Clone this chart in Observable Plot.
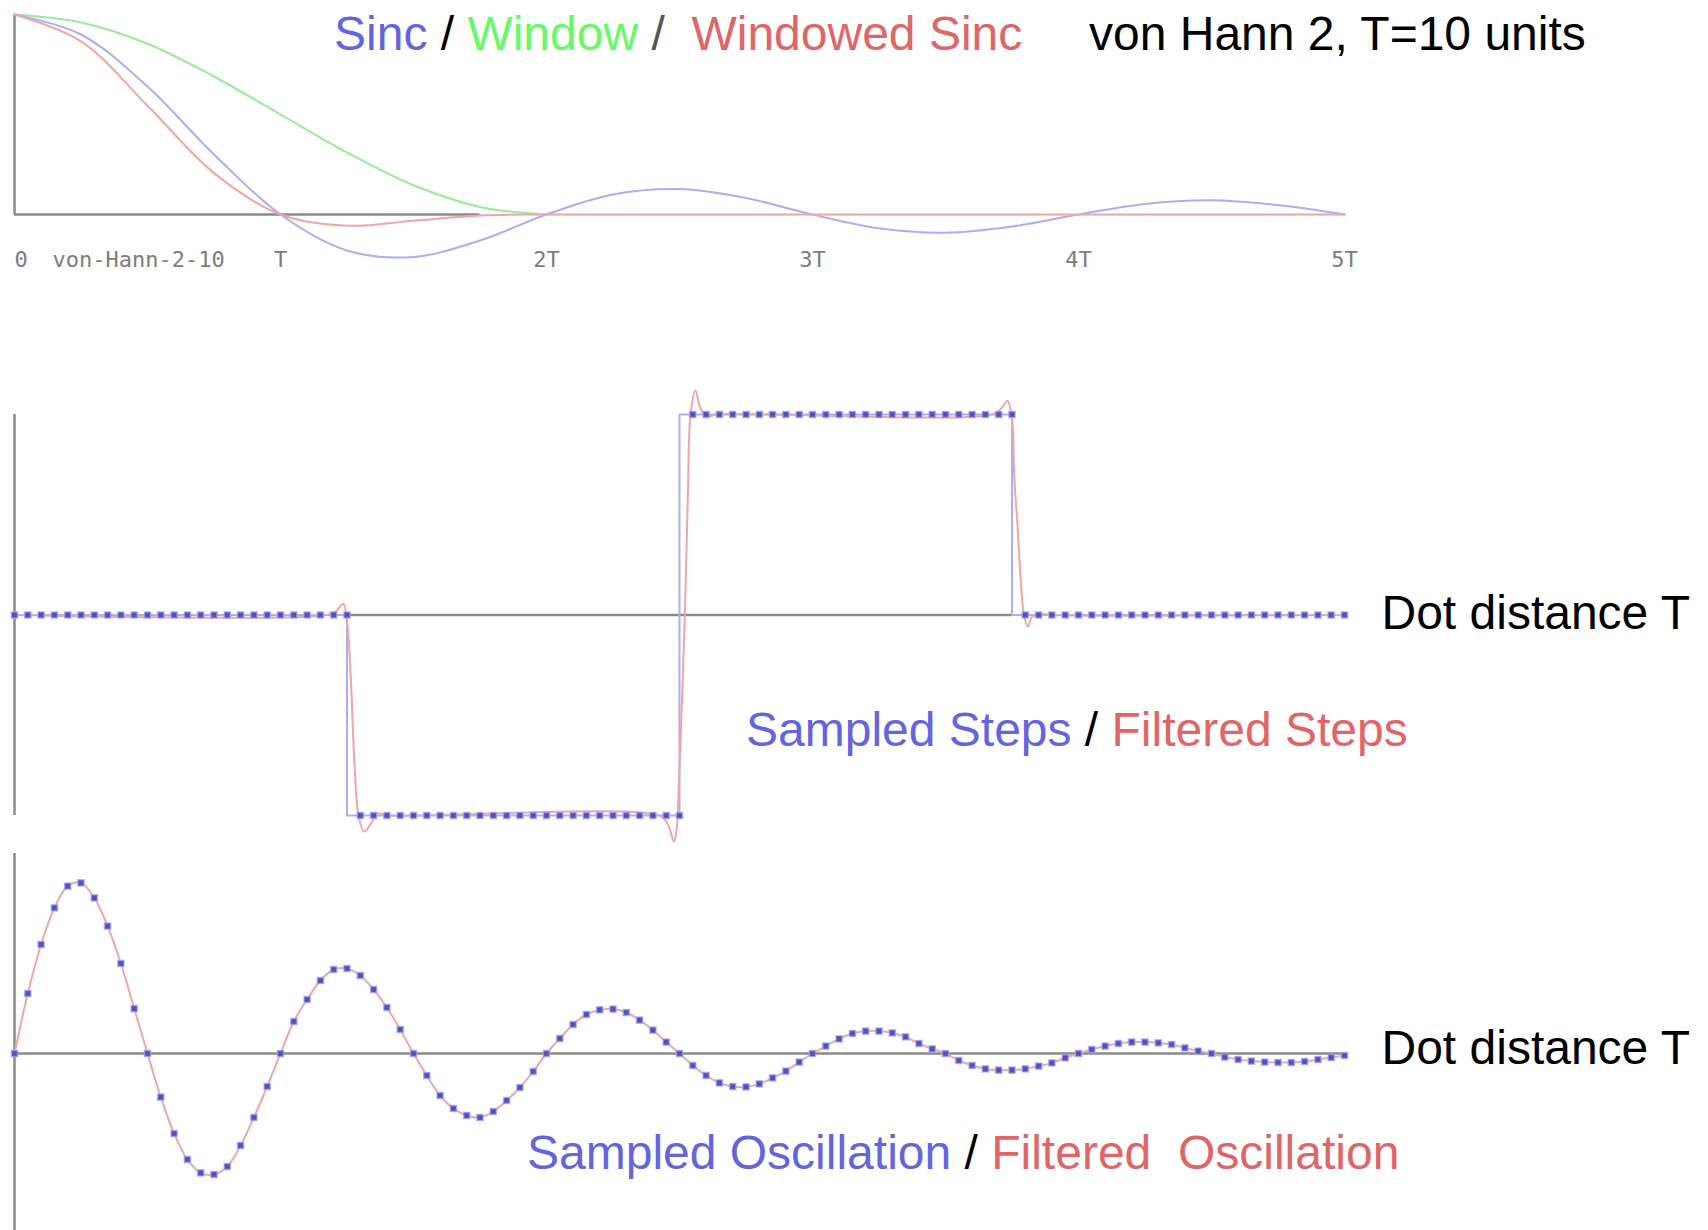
<!DOCTYPE html>
<html><head><meta charset="utf-8">
<script src="https://cdn.jsdelivr.net/npm/d3@7"></script>
<script src="https://cdn.jsdelivr.net/npm/@observablehq/plot@0.6"></script>
<style>
html,body{margin:0;padding:0;background:#fff;overflow:hidden;}
#wrap{position:relative;width:1708px;height:1230px;background:#fff;}
.panel{position:absolute;left:0;}
</style></head><body><div id="wrap"></div>
<script>
// ---------- Panel 1: kernel (x in units of T) ----------
const sincX = [0,0.25,0.5,0.75,1,1.25,1.5,1.75,2,2.25,2.5,2.75,3,3.25,3.5,3.75,4,4.25,4.5,4.75,5];
const sincY = [1,0.9,0.64,0.3,0,-0.18,-0.212,-0.13,0,0.1,0.127,0.082,0,-0.069,-0.091,-0.06,0,0.053,0.071,0.047,0];
const windowX = [0,0.25,0.5,0.75,1,1.25,1.5,1.75,2];
const windowY = [1,0.96,0.854,0.69,0.5,0.31,0.146,0.038,0];
const windowedX = [0,0.25,0.5,0.75,1,1.25,1.5,1.75,2,3,4,5];
const windowedY = [1,0.866,0.544,0.207,0,-0.056,-0.031,-0.005,0,0,0,0];
const kernelTicks = [1,2,3,4,5];
const kernelTickLabels = ["T","2T","3T","4T","5T"];
const kernelName = "von-Hann-2-10";

// ---------- Panel 2: steps (x = sample index) ----------
const stepSamples = [
  0,0,0,0,0,0,0,0,0,0,
  0,0,0,0,0,0,0,0,0,0,
  0,0,0,0,0,0,-1,-1,-1,-1,
  -1,-1,-1,-1,-1,-1,-1,-1,-1,-1,
  -1,-1,-1,-1,-1,-1,-1,-1,-1,-1,
  -1,1,1,1,1,1,1,1,1,1,
  1,1,1,1,1,1,1,1,1,1,
  1,1,1,1,1,1,0,0,0,0,
  0,0,0,0,0,0,0,0,0,0,
  0,0,0,0,0,0,0,0,0,0,0];
const filteredStepX = [0,23.5,24.2,24.72,25,25.29,25.58,25.87,26.29,26.8,27.3,28,
  48.5,49.1,49.59,49.8,49.96,50.2,50.45,50.63,50.83,51.2,51.58,52.1,52.8,
  73.5,74.2,74.66,75.04,75.16,75.41,75.66,75.9,76.2,76.5,77.2,78,100];
const filteredStepY = [0,0,0.02,0.056,-0.03,-0.32,-0.77,-1.0,-1.08,-1.04,-0.99,-1.0,
  -1,-1.04,-1.13,-1.06,-0.83,-0.4,0.12,0.6,1.0,1.12,1.03,0.99,1.0,
  1,1.03,1.067,0.95,0.7,0.45,0.17,0,-0.058,-0.01,0.005,0,0];

// ---------- Panel 3: damped oscillation ----------
const oscSamples = [
  0,0.30,0.545,0.728,0.837,0.853,0.778,0.637,0.45,0.224,
  0,-0.218,-0.40,-0.53,-0.597,-0.605,-0.565,-0.46,-0.32,-0.165,
  0,0.16,0.27,0.365,0.42,0.425,0.39,0.32,0.23,0.12,
  0,-0.11,-0.21,-0.275,-0.31,-0.32,-0.29,-0.235,-0.17,-0.09,
  0,0.075,0.145,0.195,0.218,0.222,0.205,0.167,0.117,0.057,
  0,-0.06,-0.11,-0.147,-0.165,-0.167,-0.152,-0.122,-0.088,-0.043,
  0,0.037,0.073,0.1,0.112,0.112,0.103,0.083,0.05,0.023,
  0,-0.035,-0.06,-0.077,-0.083,-0.083,-0.077,-0.063,-0.047,-0.022,
  0,0.02,0.037,0.05,0.057,0.057,0.053,0.045,0.028,0.012,
  0,-0.018,-0.03,-0.038,-0.043,-0.045,-0.045,-0.04,-0.03,-0.02,-0.01];

// ---------- styling ----------
const W = 1708;
const FONT = "Liberation Sans, Arial, Helvetica, sans-serif";
const MONO = "DejaVu Sans Mono, monospace";
const TXT = 48;
const gray = "#8a8a8a";
const lineBlue = "#adadf3", lineRed = "#f0a6a6", lineGreen = "#98ec98";
const txtBlue = "#6365df", txtRed = "#e06666", txtGreen = "#66fb66";
const dotFill = "#5050c2", dotHalo = "#a4a4ee";

const zip = (xs, ys) => xs.map((x, i) => ({x, y: ys[i]}));
const sinc = zip(sincX, sincY);
const win = zip(windowX, windowY);
const windowed = zip(windowedX, windowedY);
const ticks = kernelTicks.map((x, i) => ({x, label: kernelTickLabels[i]}));
const steps = stepSamples.map((y, x) => ({x, y}));
const filteredSteps = zip(filteredStepX, filteredStepY);
const osc = oscSamples.map((y, x) => ({x, y}));

const wrap = document.getElementById("wrap");
function place(svg, top) {
  const d = document.createElement("div");
  d.className = "panel"; d.style.top = top + "px";
  d.appendChild(svg); wrap.appendChild(d);
}
function richText(svg, x, y, parts) {
  const t = d3.select(svg).append("text")
    .attr("x", x).attr("y", y)
    .attr("text-anchor", "start")
    .attr("font-family", FONT).attr("font-size", TXT)
    .style("white-space", "pre");
  parts.forEach(([s, c]) => t.append("tspan").attr("fill", c).text(s));
}
const base = {width: W, marginLeft: 14, marginRight: 364,
  style: {background: "transparent", overflow: "visible"}};
const tickStyle = {fontFamily: MONO, fontSize: 22, fill: "#7c7c7c", dy: 52, lineAnchor: "bottom"};

// Panel 1
const p1 = Plot.plot({...base, height: 300, marginTop: 14, marginBottom: 86,
  x: {domain: [0, 5], axis: null}, y: {domain: [0, 1], axis: null},
  marks: [
    Plot.ruleX([0], {y1: 0, y2: 1, stroke: gray, strokeWidth: 2.5}),
    Plot.ruleY([0], {x1: 0, x2: 1.75, stroke: gray, strokeWidth: 2.5}),
    Plot.line(win, {x: "x", y: "y", stroke: lineGreen, strokeWidth: 2, curve: "catmull-rom"}),
    Plot.line(sinc, {x: "x", y: "y", stroke: lineBlue, strokeWidth: 2, curve: "catmull-rom"}),
    Plot.line(windowed, {x: "x", y: "y", stroke: lineRed, strokeWidth: 2, curve: "catmull-rom"}),
    Plot.text(ticks, {x: "x", y: 0, text: "label", ...tickStyle}),
    Plot.text(["0"], {x: 0, y: 0, text: d => d, textAnchor: "start", ...tickStyle}),
    Plot.text([kernelName], {x: 0, y: 0, text: d => d, dx: 38, textAnchor: "start", ...tickStyle})
  ]});
richText(p1, 334, 50, [["Sinc", txtBlue], [" / ", "#000"], ["Window", txtGreen], [" /  ", "#555"], ["Windowed Sinc", txtRed]]);
richText(p1, 1089, 50, [["von Hann 2, T=10 units", "#000"]]);
place(p1, 0);

// Panel 2
const p2 = Plot.plot({...base, height: 500, marginTop: 74, marginBottom: 25,
  x: {domain: [0, 100], axis: null}, y: {domain: [-1, 1], axis: null},
  marks: [
    Plot.ruleX([0], {y1: -1, y2: 1, stroke: gray, strokeWidth: 2.5}),
    Plot.ruleY([0], {x1: 25, x2: 75, stroke: gray, strokeWidth: 2.5}),
    Plot.line(steps, {x: "x", y: "y", stroke: lineBlue, strokeWidth: 2, curve: "step-before"}),
    Plot.line(filteredSteps, {x: "x", y: "y", stroke: lineRed, strokeWidth: 2, curve: "catmull-rom"}),
    Plot.dot(steps, {x: "x", y: "y", symbol: "square", r: 3.5, fill: dotFill, stroke: dotHalo, strokeWidth: 1.5, strokeOpacity: 0.7}),
    Plot.text(["Dot distance T"], {x: 100, y: 0, text: d => d, dx: 37, dy: 14, lineAnchor: "bottom", textAnchor: "start",
      fontFamily: FONT, fontSize: TXT, fill: "#000"})
  ]});
richText(p2, 746, 406, [["Sampled Steps", txtBlue], [" / ", "#000"], ["Filtered Steps", txtRed]]);
place(p2, 340);

// Panel 3
const p3 = Plot.plot({...base, height: 390, marginTop: 13, marginBottom: 0,
  x: {domain: [0, 100], axis: null}, y: {domain: [-0.885, 1], axis: null},
  marks: [
    Plot.ruleX([0], {y1: -0.885, y2: 1, stroke: gray, strokeWidth: 2.5}),
    Plot.ruleY([0], {x1: 0, x2: 100, stroke: gray, strokeWidth: 2.5}),
    Plot.line(osc, {x: "x", y: "y", stroke: lineRed, strokeWidth: 2, curve: "catmull-rom"}),
    Plot.dot(osc, {x: "x", y: "y", symbol: "square", r: 3.5, fill: dotFill, stroke: dotHalo, strokeWidth: 1.5, strokeOpacity: 0.7}),
    Plot.text(["Dot distance T"], {x: 100, y: 0, text: d => d, dx: 37, dy: 10, lineAnchor: "bottom", textAnchor: "start",
      fontFamily: FONT, fontSize: TXT, fill: "#000"})
  ]});
richText(p3, 527, 329, [["Sampled Oscillation", txtBlue], [" / ", "#000"], ["Filtered  Oscillation", txtRed]]);
place(p3, 840);
</script></body></html>
